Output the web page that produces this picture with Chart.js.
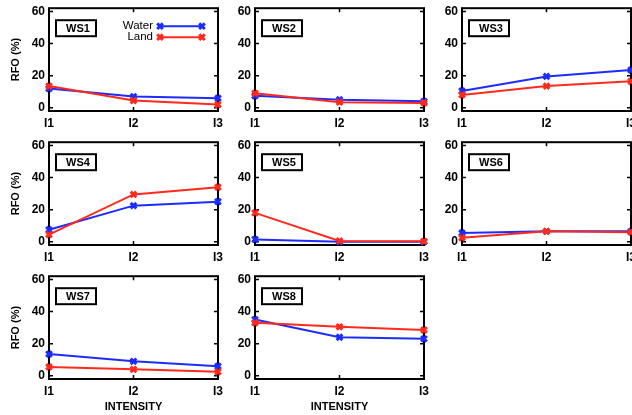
<!DOCTYPE html>
<html>
<head>
<meta charset="utf-8">
<script src="https://cdn.jsdelivr.net/npm/chart.js@4/dist/chart.umd.min.js"></script>
<style>
  html, body { margin: 0; padding: 0; background: #fff; }
  body { width: 632px; height: 415px; position: relative; overflow: hidden; }
  canvas { position: absolute; }
</style>
</head>
<body>
<script>
// RFO (%) by rain intensity class, one panel per station
const intensity = ["I1", "I2", "I3"];
const stations = ["WS1", "WS2", "WS3", "WS4", "WS5", "WS6", "WS7", "WS8"];
const waterRFO = [
  [12, 7, 6],
  [7.5, 5, 4],
  [10.5, 19.5, 23.5],
  [7.5, 22.5, 25],
  [1.5, 0, 0],
  [5.5, 6.5, 6.5],
  [13.5, 9, 6],
  [35, 24, 23]
];
const landRFO = [
  [13.5, 4.5, 2],
  [9, 3.5, 3],
  [8, 13.5, 16.5],
  [4.5, 29.5, 34],
  [18, 0.5, 0.3],
  [2.5, 6.5, 6],
  [5.5, 4, 2.5],
  [33, 30.5, 28.5]
];
const rfoTicks = [0, 20, 40, 60];

const BLUE = "#1c2cff";
const RED = "#ff2a1c";

// plot-area edges of the 3x3 grid
const colLeft = [49, 255, 462];
const colRight = [218, 424, 631];
const rowTop = [5, 139, 273];
const rowBottom = [111, 245, 379];
const AXIS_W = 48, AXIS_H = 36, PAD_TOP = 8, PAD_RIGHT = 12;

const FAMILY = "'Liberation Sans', Arial, sans-serif";
const tickFont = { family: FAMILY, size: 12, weight: "bold" };
const titleFont = { family: FAMILY, size: 11, weight: "bold" };

function drawMarker(ctx, x, y) {
  ctx.beginPath();
  ctx.moveTo(x - 2.8, y - 2.8); ctx.lineTo(x + 2.8, y + 2.8);
  ctx.moveTo(x + 2.8, y - 2.8); ctx.lineTo(x - 2.8, y + 2.8);
  ctx.stroke();
}

// box frame, inward ticks, station label and the legend
const panelDecor = {
  id: "panelDecor",
  beforeDatasetsDraw(chart, args, opts) {
    const { ctx, chartArea: a, scales } = chart;
    ctx.save();
    ctx.strokeStyle = "#000";
    ctx.lineWidth = 2;
    ctx.strokeRect(a.left, a.top, a.right - a.left, a.bottom - a.top);

    ctx.lineWidth = 1.5;
    ctx.beginPath();
    rfoTicks.forEach(v => {
      const y = scales.y.getPixelForValue(v);
      ctx.moveTo(a.left, y); ctx.lineTo(a.left + 4, y);
      ctx.moveTo(a.right, y); ctx.lineTo(a.right - 4, y);
    });
    intensity.forEach((_, i) => {
      const x = scales.x.getPixelForValue(i);
      ctx.moveTo(x, a.top); ctx.lineTo(x, a.top + 4);
      ctx.moveTo(x, a.bottom); ctx.lineTo(x, a.bottom - 4);
    });
    ctx.stroke();

    ctx.lineWidth = 2;
    ctx.strokeRect(a.left + 7, a.top + 12, 40, 16);
    ctx.fillStyle = "#000";
    ctx.font = "bold 11px " + FAMILY;
    ctx.textAlign = "center";
    ctx.textBaseline = "middle";
    ctx.fillText(opts.name, a.left + 29, a.top + 20.5);
    ctx.restore();
  },
  afterDraw(chart, args, opts) {
    if (!opts.legend) return;
    const { ctx, chartArea: a } = chart;
    ctx.save();
    chart.data.datasets.forEach((ds, i) => {
      const y = a.top + 18 + i * 11;
      ctx.fillStyle = "#000";
      ctx.font = "11.5px " + FAMILY;
      ctx.textAlign = "right";
      ctx.textBaseline = "middle";
      ctx.fillText(ds.label, a.left + 104, y);
      ctx.strokeStyle = ds.borderColor;
      ctx.lineWidth = 2;
      ctx.beginPath();
      ctx.moveTo(a.left + 111, y); ctx.lineTo(a.left + 153, y);
      ctx.stroke();
      ctx.lineWidth = 3;
      drawMarker(ctx, a.left + 111, y);
      drawMarker(ctx, a.left + 153, y);
    });
    ctx.restore();
  }
};

stations.forEach((name, k) => {
  const col = k % 3, row = Math.floor(k / 3);
  const w = colRight[col] - colLeft[col] + AXIS_W + PAD_RIGHT;
  const h = rowBottom[row] - rowTop[row] + PAD_TOP + AXIS_H;
  const canvas = document.createElement("canvas");
  canvas.width = w;
  canvas.height = h;
  canvas.style.left = (colLeft[col] - AXIS_W) + "px";
  canvas.style.top = (rowTop[row] - PAD_TOP) + "px";
  document.body.appendChild(canvas);

  new Chart(canvas, {
    type: "line",
    data: {
      labels: intensity,
      datasets: [
        { label: "Water", data: waterRFO[k], borderColor: BLUE, backgroundColor: BLUE, order: 1 },
        { label: "Land", data: landRFO[k], borderColor: RED, backgroundColor: RED, order: 0 }
      ]
    },
    options: {
      responsive: false,
      animation: false,
      layout: { padding: { top: PAD_TOP, right: PAD_RIGHT, left: 0, bottom: 0 } },
      elements: {
        line: { borderWidth: 2, tension: 0 },
        point: { pointStyle: "crossRot", radius: 4, borderWidth: 3, hoverRadius: 4 }
      },
      datasets: { line: { clip: false } },
      plugins: {
        legend: { display: false },
        tooltip: { enabled: false },
        panelDecor: { name: name, legend: k === 0 }
      },
      scales: {
        x: {
          type: "category",
          offset: false,
          grid: { display: false, drawTicks: false },
          border: { display: false },
          ticks: { padding: 5, color: "#000", font: tickFont, maxRotation: 0, autoSkip: false },
          title: { display: row === 2, text: "INTENSITY", color: "#000", font: titleFont, padding: { top: 0, bottom: 1 } },
          afterFit(s) { s.height = AXIS_H; }
        },
        y: {
          min: -2,
          max: 62,
          afterBuildTicks(s) { s.ticks = rfoTicks.map(v => ({ value: v })); },
          grid: { display: false, drawTicks: false },
          border: { display: false },
          ticks: { padding: 4, color: "#000", font: tickFont },
          title: { display: col === 0, text: "RFO (%)", color: "#000", font: titleFont, padding: { top: 8, bottom: 0 } },
          afterFit(s) { s.width = AXIS_W; }
        }
      }
    },
    plugins: [panelDecor]
  });
});
</script>
</body>
</html>
